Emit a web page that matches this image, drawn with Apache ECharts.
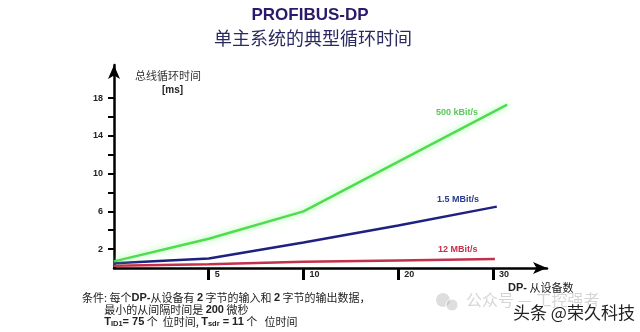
<!DOCTYPE html>
<html>
<head>
<meta charset="utf-8">
<script src="https://cdn.jsdelivr.net/npm/echarts@6/dist/echarts.min.js"></script>
<style>
  html, body { margin: 0; padding: 0; background: #fff; }
  #chart { width: 640px; height: 332px; }
</style>
</head>
<body>
<div id="chart"></div>
<script>
// x axis is not linear: 0, 5, 10, 20, 30 slaves sit at equal steps
var slaveTicks = [0, 5, 10, 20, 30];
var yLabelValues = [2, 6, 10, 14, 18];
var yTickValues = [2, 4, 6, 8, 10, 12, 14, 16, 18];

// [slaves, bus cycle time ms]
var kbit500 = [[0, 0.7], [5, 3.1], [10, 6.0], [31.5, 17.3]];
var mbit15 = [[0, 0.5], [5, 1.0], [10, 2.7], [20, 4.5], [30.4, 6.5]];
var mbit12 = [[0, 0.25], [5, 0.4], [10, 0.65], [20, 0.8], [30.2, 0.95]];

var seriesNames = ['500 kBit/s', '1.5 MBit/s', '12 MBit/s'];
var seriesColors = ['#4fdc4f', '#1f2180', '#c3304a'];

function toIndex(n) {
  for (var i = 1; i < slaveTicks.length; i++) {
    if (n <= slaveTicks[i] || i === slaveTicks.length - 1) {
      var a = slaveTicks[i - 1], b = slaveTicks[i];
      return (i - 1) + (n - a) / (b - a);
    }
  }
}
function mapData(arr) {
  return arr.map(function (p) { return [toIndex(p[0]), p[1]]; });
}

var chart = echarts.init(document.getElementById('chart'));
var cjk = '"Noto Sans CJK SC", "Liberation Sans", sans-serif';

var option = {
  animation: false,
  backgroundColor: '#fff',
  grid: { left: 114, right: 93, top: 65, bottom: 64 },
  xAxis: {
    type: 'value', min: 0, max: 4.57,
    splitLine: { show: false },
    axisLine: { lineStyle: { color: '#000', width: 2.5 }, symbol: ['none', 'arrow'], symbolSize: [9, 14] },
    axisTick: { customValues: [1, 2, 3, 4], length: 12, lineStyle: { color: '#000', width: 3 } },
    axisLabel: {
      customValues: [1, 2, 3, 4], margin: 2, align: 'left', padding: [0, 0, 0, 6],
      fontSize: 9, fontWeight: 'bold', color: '#222', fontFamily: 'Liberation Sans',
      formatter: function (v) { return String(slaveTicks[Math.round(v)]); }
    }
  },
  yAxis: {
    type: 'value', min: 0, max: 21.5,
    splitLine: { show: false },
    axisLine: { lineStyle: { color: '#000', width: 2.5 }, symbol: ['none', 'arrow'], symbolSize: [9, 14] },
    axisTick: { customValues: yTickValues, length: 6, lineStyle: { color: '#000', width: 2 } },
    axisLabel: {
      customValues: yLabelValues, margin: 11,
      fontSize: 9, fontWeight: 'bold', color: '#222', fontFamily: 'Liberation Sans'
    }
  },
  series: [kbit500, mbit15, mbit12].map(function (d, i) {
    return {
      name: seriesNames[i], type: 'line', data: mapData(d), symbol: 'none',
      lineStyle: i === 0
        ? { color: seriesColors[i], width: 2.5, shadowBlur: 6, shadowColor: 'rgba(120,255,120,0.8)' }
        : { color: seriesColors[i], width: 2.5 },
      z: 3 - i
    };
  }),
  graphic: [
    { type: 'text', x: 310, y: 7, style: { text: 'PROFIBUS-DP', textAlign: 'center', fontSize: 17, fontWeight: 'bold', fill: '#2b1a6b', fontFamily: 'Liberation Sans' } },
    { type: 'text', x: 313, y: 29, style: { text: '单主系统的典型循环时间', textAlign: 'center', fontSize: 18, fill: '#2a2a60', fontFamily: cjk } },
    { type: 'text', x: 135, y: 70, style: { text: '总线循环时间', fontSize: 11, fill: '#333', fontFamily: cjk } },
    { type: 'text', x: 162, y: 85, style: { text: '[ms]', fontSize: 10, fontWeight: 'bold', fill: '#222', fontFamily: 'Liberation Sans' } },
    { type: 'text', x: 436, y: 108, style: { text: seriesNames[0], fontSize: 9, fontWeight: 'bold', fill: '#58c858', fontFamily: 'Liberation Sans' } },
    { type: 'text', x: 437, y: 195, style: { text: seriesNames[1], fontSize: 9, fontWeight: 'bold', fill: '#2a3a8a', fontFamily: 'Liberation Sans' } },
    { type: 'text', x: 438, y: 245, style: { text: seriesNames[2], fontSize: 9, fontWeight: 'bold', fill: '#c3304a', fontFamily: 'Liberation Sans' } },
    { type: 'text', x: 508, y: 282, style: {
      text: '{b|DP-} 从设备数', fontFamily: cjk, fontSize: 11, fill: '#222',
      rich: { b: { fontWeight: 'bold', fontSize: 11, fontFamily: 'Liberation Sans', fill: '#222' } }
    } },
    { type: 'text', x: 82, y: 292, style: {
      text: '条件: 每个{b|DP-}从设备有 {b|2} 字节的输入和 {b|2} 字节的输出数据，\n' +
            '         最小的从间隔时间是 {b|200} 微秒\n' +
            '         {b|T}{s|ID1}{b|= 75} 个  位时间, {b|T}{s|sdr}{b| = 11} 个   位时间',
      fontFamily: cjk, fontSize: 11, fill: '#222', lineHeight: 12,
      rich: {
        b: { fontWeight: 'bold', fontSize: 11, fontFamily: 'Liberation Sans', fill: '#222', lineHeight: 12 },
        s: { fontWeight: 'bold', fontSize: 7.5, fontFamily: 'Liberation Sans', fill: '#222', lineHeight: 12, padding: [3, 0, 0, 0] }
      }
    } },
    // watermark
    { type: 'circle', shape: { cx: 443, cy: 300, r: 7 }, style: { fill: 'rgba(160,160,160,0.35)' } },
    { type: 'circle', shape: { cx: 452, cy: 305, r: 6 }, style: { fill: 'rgba(160,160,160,0.35)', stroke: '#fff', lineWidth: 1 } },
    { type: 'text', x: 466, y: 292, style: { text: '公众号 — 工控强者', fontSize: 16, fill: 'rgba(150,150,150,0.4)', fontFamily: cjk } },
    { type: 'text', x: 513, y: 304, style: { text: '头条 @荣久科技', fontSize: 17, fill: '#222', stroke: '#fff', lineWidth: 2, fontFamily: cjk } }
  ]
};

chart.setOption(option);
</script>
</body>
</html>
